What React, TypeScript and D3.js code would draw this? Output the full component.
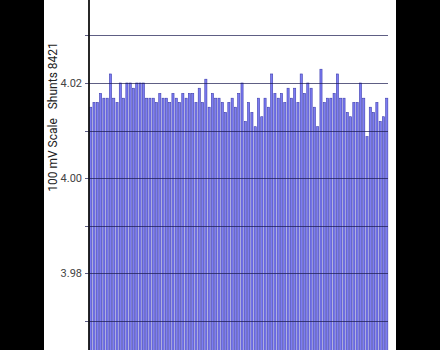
import React, { useEffect, useRef } from "react";
import * as d3 from "d3";

const values: number[] = [
  4.0149, 4.0159, 4.0159, 4.0178, 4.0168, 4.0168, 4.0219, 4.0168, 4.0159, 4.02,
  4.0168, 4.02, 4.02, 4.0189, 4.02, 4.02, 4.02, 4.0168, 4.0168, 4.0168,
  4.0159, 4.0178, 4.0168, 4.0168, 4.0159, 4.0178, 4.0168, 4.0159, 4.0178, 4.0168,
  4.0178, 4.0178, 4.0159, 4.0189, 4.0159, 4.0208, 4.0149, 4.0178, 4.0168, 4.0168,
  4.0159, 4.0138, 4.0159, 4.0168, 4.0149, 4.0178, 4.02, 4.0119, 4.0159, 4.0138,
  4.0108, 4.0168, 4.0129, 4.0168, 4.0149, 4.0219, 4.0178, 4.0168, 4.0178, 4.0159,
  4.0189, 4.0168, 4.0189, 4.0159, 4.0219, 4.0178, 4.02, 4.0189, 4.0149, 4.0108,
  4.0229, 4.0159, 4.0168, 4.0168, 4.0178, 4.0219, 4.0168, 4.0168, 4.0138, 4.0129,
  4.0159, 4.0159, 4.02, 4.0168, 4.0087, 4.0149, 4.0138, 4.0159, 4.0119, 4.0129,
  4.0168,
];
const gridValues: number[] = [4.03, 4.02, 4.01, 4.0, 3.99, 3.98, 3.97];
const labeledTicks: number[] = [4.02, 4.0, 3.98];
const yTitle = "100 mV Scale   Shunts 8421";

export default function App() {
  const ref = useRef<SVGSVGElement>(null);
  useEffect(() => {
    const svg = d3.select(ref.current);
    svg.selectAll("*").remove();
    const W = 440, H = 350;
    const left = 89, right = 388;
    const y = d3.scaleLinear().domain([4.0, 4.02]).range([178, 83]);
    const x = d3
      .scaleBand<number>()
      .domain(values.map((_, i) => i))
      .range([left + 0.5, right])
      .paddingInner(0.35)
      .paddingOuter(0.05);

    svg.append("rect").attr("width", W).attr("height", H).attr("fill", "#000");
    svg.append("rect").attr("x", 44).attr("y", 0).attr("width", 352).attr("height", H).attr("fill", "#fff");

    svg
      .append("g")
      .selectAll("rect")
      .data(values)
      .join("rect")
      .attr("x", (_, i) => x(i)!)
      .attr("width", x.bandwidth())
      .attr("y", (d) => y(d))
      .attr("height", (d) => H - y(d) + 2)
      .attr("fill", "#7c7cf2")
      .attr("stroke", "#3c3cae")
      .attr("stroke-width", 0.6);

    svg
      .append("g")
      .selectAll("line")
      .data(gridValues)
      .join("line")
      .attr("x1", left - 4)
      .attr("x2", right)
      .attr("y1", (d) => Math.round(y(d)) + 0.5)
      .attr("y2", (d) => Math.round(y(d)) + 0.5)
      .attr("stroke", "#1a1a50")
      .attr("stroke-opacity", 0.7)
      .attr("stroke-width", 1.2);

    svg
      .append("line")
      .attr("x1", left)
      .attr("x2", left)
      .attr("y1", 0)
      .attr("y2", H)
      .attr("stroke", "#111")
      .attr("stroke-width", 1.8);

    svg
      .append("g")
      .selectAll("text")
      .data(labeledTicks)
      .join("text")
      .attr("x", left - 7)
      .attr("y", (d) => y(d))
      .attr("dy", "0.35em")
      .attr("text-anchor", "end")
      .attr("font-family", "Roboto, sans-serif")
      .attr("font-size", 11)
      .attr("fill", "#444")
      .text((d) => d3.format(".2f")(d));

    svg
      .append("text")
      .attr("transform", "translate(57,117) rotate(-90)")
      .attr("text-anchor", "middle")
      .attr("font-family", "Roboto, sans-serif")
      .attr("font-size", 12)
      .attr("fill", "#222")
      .style("white-space", "pre")
      .text(yTitle);
  }, []);
  return (
    <svg
      ref={ref}
      width={440}
      height={350}
      style={{ position: "absolute", left: 0, top: 0, display: "block" }}
    />
  );
}
